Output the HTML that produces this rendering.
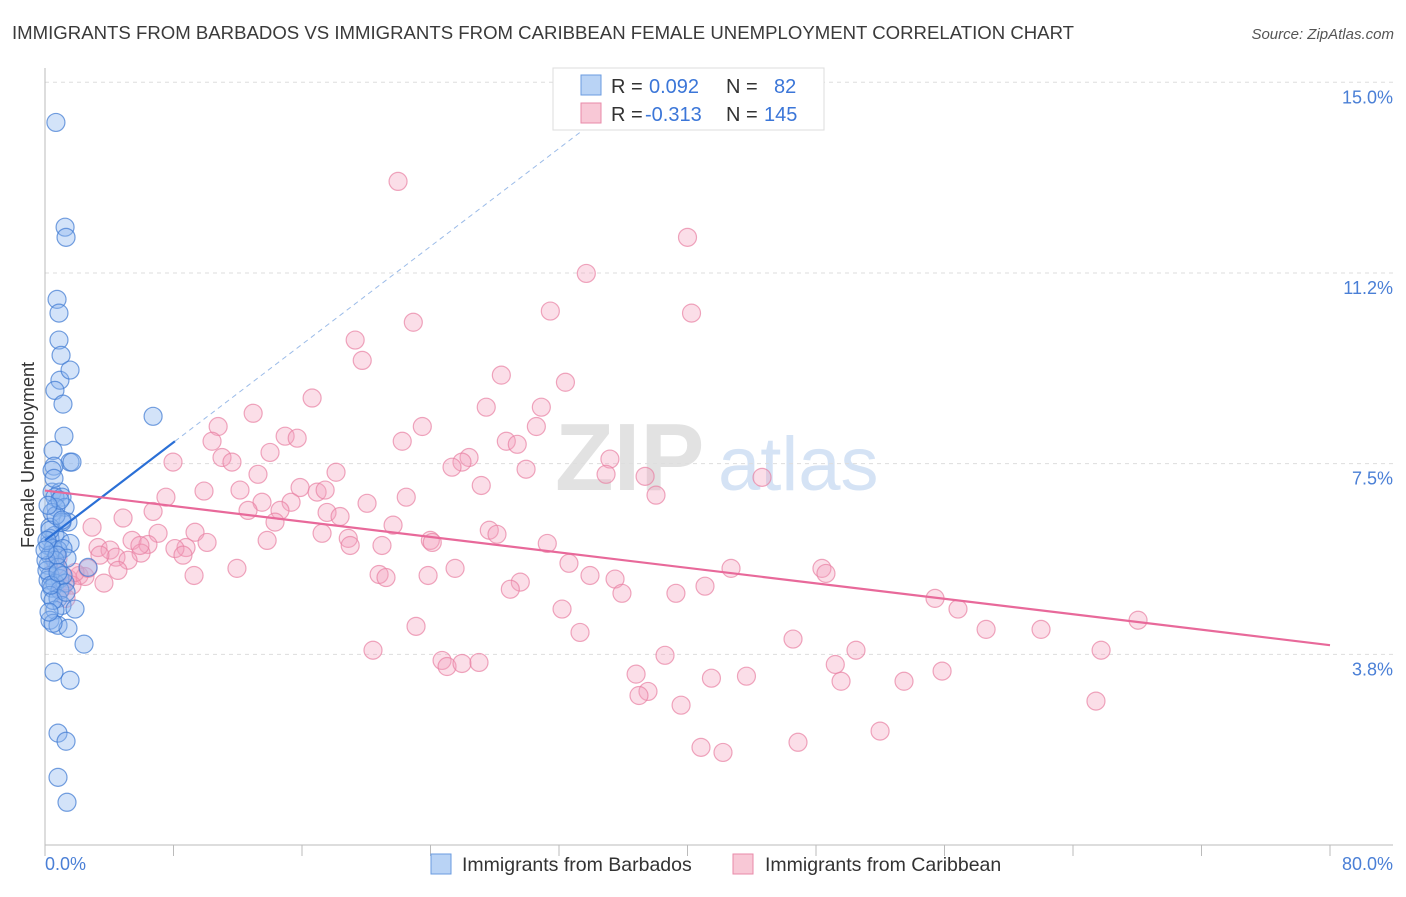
<!DOCTYPE html>
<html><head><meta charset="utf-8"><style>
body{margin:0;background:#fff;font-family:"Liberation Sans",sans-serif;}
svg text{font-family:"Liberation Sans",sans-serif;}
</style></head><body>
<svg id="chart" width="1406" height="892" viewBox="0 0 1406 892" xmlns="http://www.w3.org/2000/svg">
<text x="12" y="39" font-size="18.6" fill="#3a3a3a">IMMIGRANTS FROM BARBADOS VS IMMIGRANTS FROM CARIBBEAN FEMALE UNEMPLOYMENT CORRELATION CHART</text>
<text x="1394" y="39" font-size="15" fill="#555" text-anchor="end" font-style="italic">Source: ZipAtlas.com</text>
<g>
<text x="555" y="490" font-size="96" fill="#e2e2e2" font-family="Liberation Serif" font-weight="bold">ZIP</text>
<text x="718" y="490" font-size="76" fill="#d5e3f5">atlas</text>
</g>
<g id="grid"></g>
<g id="axes"></g>
<g id="pink"></g>
<g id="blue"></g>
<g id="trends"></g>
<text transform="translate(34,455) rotate(-90)" font-size="18" fill="#333" text-anchor="middle">Female Unemployment</text>
<g>
<rect x="553" y="68" width="271" height="62" fill="#fff" stroke="#ddd"/>
<rect x="581" y="75" width="20" height="20" fill="#b9d3f5" stroke="#6a9be0"/>
<rect x="581" y="103" width="20" height="20" fill="#f8c8d6" stroke="#e88aa8"/>
<text x="611" y="93" font-size="20" fill="#333">R = </text><text x="649" y="93" font-size="20" fill="#3b76d8">0.092</text>
<text x="726" y="93" font-size="20" fill="#333">N = </text><text x="774" y="93" font-size="20" fill="#3b76d8">82</text>
<text x="611" y="121" font-size="20" fill="#333">R = </text><text x="645" y="121" font-size="20" fill="#3b76d8">-0.313</text>
<text x="726" y="121" font-size="20" fill="#333">N = </text><text x="764" y="121" font-size="20" fill="#3b76d8">145</text>
</g>
<g>
<rect x="431" y="854" width="20" height="20" fill="#b9d3f5" stroke="#6a9be0"/>
<text x="462" y="871" font-size="19.5" fill="#333">Immigrants from Barbados</text>
<rect x="733" y="854" width="20" height="20" fill="#f8c8d6" stroke="#e88aa8"/>
<text x="765" y="871" font-size="19.5" fill="#333">Immigrants from Caribbean</text>
</g>
</svg>
<script>
const yTicks=[3.75,7.5,11.25,15];
const yTickLabels=["3.8%","7.5%","11.2%","15.0%"];
const xTickVals=[0,8,16,24,32,40,48,56,64,72,80];
const blueX=[0.68,1.25,1.31,0.75,0.87,0.87,1.0,0.93,1.56,0.62,1.12,6.73,1.18,0.5,1.56,1.68,0.56,0.44,0.93,0.62,1.06,1.25,0.68,0.44,1.43,1.06,0.31,0.62,0.31,0.93,1.56,0.19,0.5,0.81,1.12,0.31,1.37,0.62,0.19,0.81,2.68,0.31,0.93,0.19,0.62,1.25,0.44,0.93,0.31,0.81,1.06,0.62,1.87,0.31,0.81,1.43,0.5,2.43,0.56,1.56,0.81,1.31,0.81,1.37,0.12,0.31,0.68,0.06,0.44,0.93,0.5,0.25,1.12,0.75,0.37,1.31,0.12,0.56,1.06,0.19,0.81,0];
const blueY=[14.21,12.15,11.95,10.73,10.46,9.93,9.63,9.14,9.34,8.94,8.67,8.43,8.04,7.76,7.53,7.53,7.45,6.94,6.94,6.84,6.84,6.64,6.64,6.54,6.35,6.35,6.25,6.09,6.03,5.99,5.93,5.89,5.83,5.80,5.83,5.70,5.64,5.60,5.50,5.46,5.46,5.30,5.24,5.21,5.15,5.15,5.05,5.01,4.91,4.85,4.71,4.62,4.64,4.42,4.32,4.26,4.36,3.95,3.40,3.24,2.20,2.04,1.33,0.84,5.40,6.19,6.48,5.60,7.37,6.78,4.81,4.58,5.30,5.70,5.11,4.97,5.99,7.21,6.39,6.68,5.36,5.80];
const pinkX=[21.98,40.0,33.7,31.46,40.25,22.93,19.31,19.75,28.41,32.4,16.63,27.47,30.9,12.96,10.78,23.49,30.59,14.95,10.40,15.70,22.24,28.72,29.4,14.01,11.02,26.4,11.64,7.97,25.96,25.34,35.17,37.36,34.93,44.64,18.12,29.95,15.88,13.26,12.14,9.90,7.53,27.16,16.94,17.44,22.49,20.05,38.04,13.51,15.32,12.64,14.63,17.56,18.37,4.86,6.73,14.32,21.67,2.93,27.66,28.14,9.34,7.04,17.25,23.99,18.88,19.0,13.83,5.42,10.09,24.11,6.41,20.98,31.27,3.30,4.05,8.78,8.09,5.98,8.59,4.42,5.17,32.62,11.95,4.54,25.53,42.71,48.37,48.62,20.80,21.23,23.85,33.93,35.49,9.28,2.12,1.43,2.49,1.68,3.67,29.59,28.97,35.92,39.28,41.09,0.68,1.06,1.31,32.19,55.41,56.84,68.05,23.10,33.31,58.59,62.01,46.57,20.42,38.6,50.49,65.75,24.72,25.03,25.96,27.02,49.2,36.8,41.49,43.67,55.85,53.48,49.56,37.54,36.98,39.6,65.43,51.99,40.84,42.21,46.88,0.81,1.87,2.68,3.42,5.91];
const pinkY=[13.05,11.95,11.24,10.50,10.46,10.28,9.93,9.53,9.24,9.10,8.79,8.61,8.61,8.49,8.23,8.23,8.23,8.04,7.94,8.00,7.94,7.94,7.88,7.72,7.62,7.62,7.53,7.53,7.53,7.43,7.59,7.25,7.29,7.23,7.33,7.39,7.03,7.29,6.98,6.96,6.84,7.07,6.94,6.98,6.84,6.72,6.88,6.74,6.74,6.58,6.58,6.54,6.46,6.43,6.56,6.35,6.29,6.25,6.19,6.11,6.15,6.13,6.13,5.99,6.03,5.89,5.99,5.99,5.95,5.95,5.91,5.89,5.93,5.85,5.80,5.85,5.83,5.74,5.70,5.66,5.60,5.54,5.44,5.40,5.44,5.44,5.44,5.34,5.32,5.26,5.30,5.30,5.23,5.30,5.30,5.24,5.28,5.11,5.15,5.17,5.03,4.95,4.95,5.09,5.50,5.05,4.85,4.64,4.85,4.64,4.42,4.30,4.18,4.24,4.24,4.05,3.83,3.73,3.83,3.83,3.63,3.51,3.57,3.59,3.55,3.36,3.28,3.32,3.42,3.22,3.22,3.02,2.94,2.75,2.83,2.24,1.92,1.82,2.02,5.64,5.36,5.44,5.70,5.89];
const blueTrend=[0,5.99,8.09,7.94,37.4,15];
const pinkTrend=[0,6.97,80,3.93];
const NS="http://www.w3.org/2000/svg";
const X0=45,X1=1330,Y0=845,YPX=50.85;
function sx(v){return X0+v/80*(X1-X0);}
function sy(v){return Y0-v*YPX;}
function mk(tag,attrs,parent){const e=document.createElementNS(NS,tag);for(const k in attrs)e.setAttribute(k,attrs[k]);parent.appendChild(e);return e;}
const grid=document.getElementById('grid'),axes=document.getElementById('axes');
yTicks.forEach((t,i)=>{
 const l=mk('line',{x1:X0,x2:1393,y1:sy(t),y2:sy(t),stroke:'#ddd','stroke-dasharray':'4,4'},grid);
 
 
 const tx=mk('text',{x:1393,y:sy(t)+21,'font-size':18,fill:'#4a7fd6','text-anchor':'end'},axes);
 tx.textContent=yTickLabels[i];
 
 
});
mk('line',{x1:X0,x2:X0,y1:68,y2:Y0,stroke:'#bbb'},axes);
mk('line',{x1:X0,x2:1393,y1:Y0,y2:Y0,stroke:'#bbb'},axes);
xTickVals.forEach(t=>{
 const l=mk('line',{x1:sx(t),x2:sx(t),y1:Y0,y2:Y0+11,stroke:'#bbb'},axes);
 
 
});
const xl0=mk('text',{x:45,y:870,'font-size':18,fill:'#4a7fd6'},axes);xl0.textContent='0.0%';


const xl1=mk('text',{x:1393,y:870,'font-size':18,fill:'#4a7fd6','text-anchor':'end'},axes);xl1.textContent='80.0%';


const pg=document.getElementById('pink');
pinkX.forEach((x,i)=>{
 const c=mk('circle',{cx:sx(x),cy:sy(pinkY[i]),r:9,fill:'rgba(244,160,188,0.35)',stroke:'rgba(232,128,162,0.7)','stroke-width':1.2},pg);
 
 
});
const bg=document.getElementById('blue');
blueX.forEach((x,i)=>{
 const c=mk('circle',{cx:sx(x),cy:sy(blueY[i]),r:9,fill:'rgba(140,182,238,0.38)',stroke:'rgba(60,120,210,0.7)','stroke-width':1.2},bg);
 
 
});
const tg=document.getElementById('trends');
const bt=mk('line',{x1:sx(blueTrend[0]),y1:sy(blueTrend[1]),x2:sx(blueTrend[2]),y2:sy(blueTrend[3]),stroke:'#2a6fd6','stroke-width':2.2},tg);


const bd=mk('line',{x1:sx(blueTrend[2]),y1:sy(blueTrend[3]),x2:sx(blueTrend[4]),y2:sy(blueTrend[5]),stroke:'#9bbbe8','stroke-width':1,'stroke-dasharray':'5,4'},tg);


const pt=mk('line',{x1:sx(pinkTrend[0]),y1:sy(pinkTrend[1]),x2:sx(pinkTrend[2]),y2:sy(pinkTrend[3]),stroke:'#e8699a','stroke-width':2.2},tg);


</script>
</body></html>
